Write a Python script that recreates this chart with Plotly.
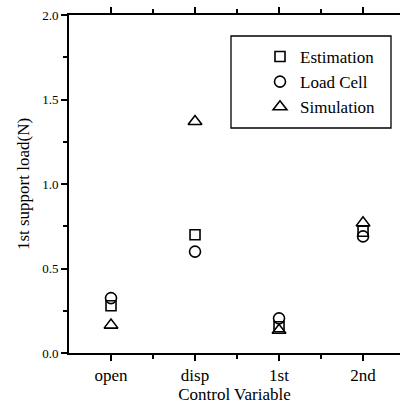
import plotly.graph_objects as go

categories = ["open", "disp", "1st", "2nd"]
estimation = [0.28, 0.70, 0.155, 0.72]
load_cell = [0.325, 0.60, 0.205, 0.69]
simulation = [0.165, 1.37, 0.135, 0.77]
y_ticks = [0.0, 0.5, 1.0, 1.5, 2.0]
y_tick_labels = ["0.0", "0.5", "1.0", "1.5", "2.0"]

xpos = list(range(len(categories)))
FONT = "Liberation Serif"

W, H = 400, 405
ML, MR, MT, MB = 69, 0, 15, 52
PW, PH = W - ML - MR, H - MT - MB

def px_x(p):
    return (p - ML) / PW

def px_y(p):
    return 1 - (p - MT) / PH

fig = go.Figure()
series = [
    ("Estimation", estimation, "square-open", 10),
    ("Load Cell", load_cell, "circle-open", 11),
    ("Simulation", simulation, "triangle-up-open", 12),
]
for name, vals, sym, sz in series:
    fig.add_trace(go.Scatter(
        x=xpos, y=vals, mode="markers", name=name, legendgroup=name,
        marker=dict(symbol=sym, size=sz, color="black", line=dict(color="black", width=1.6)),
    ))

fig.update_layout(
    width=W, height=H,
    margin=dict(l=ML, r=MR, t=MT, b=MB),
    paper_bgcolor="white", plot_bgcolor="white",
    font=dict(family=FONT, color="black", size=13),
    showlegend=True,
    legend=dict(
        x=px_x(260), y=px_y(39), xanchor="left", yanchor="top",
        borderwidth=0, bgcolor="rgba(0,0,0,0)",
        font=dict(family=FONT, size=17), itemwidth=30, tracegroupgap=0,
    ),
    shapes=[dict(type="rect", xref="paper", yref="paper",
                 x0=px_x(231), x1=px_x(391), y0=px_y(36), y1=px_y(128),
                 line=dict(color="black", width=1.3), fillcolor="rgba(0,0,0,0)", layer="below")],
    xaxis=dict(
        range=[-0.5, 3.44], tickvals=xpos, ticktext=categories,
        showgrid=False, zeroline=False, showline=True, linecolor="black", linewidth=2,
        mirror="ticks",
        ticks="outside", ticklen=6, tickwidth=1.5, tickcolor="black",
        minor=dict(tickvals=[0.5, 1.5, 2.5], ticks="outside", ticklen=4, tickwidth=1.5, tickcolor="black"),
        tickfont=dict(family=FONT, size=17),
        title=dict(text="Control Variable", font=dict(family=FONT, size=17), standoff=0),
    ),
    yaxis=dict(
        range=[0, 2.0], tickvals=y_ticks, ticktext=y_tick_labels,
        showgrid=False, zeroline=False, showline=True, linecolor="black", linewidth=2,
        ticks="outside", ticklen=6, tickwidth=1.5, tickcolor="black",
        minor=dict(tickvals=[0.25, 0.75, 1.25, 1.75], ticks="outside", ticklen=4, tickwidth=1.5, tickcolor="black"),
        tickfont=dict(family=FONT, size=13),
        title=dict(text="1st support load(N)", font=dict(family=FONT, size=17), standoff=8),
    ),
)

fig.write_html("out.html")
